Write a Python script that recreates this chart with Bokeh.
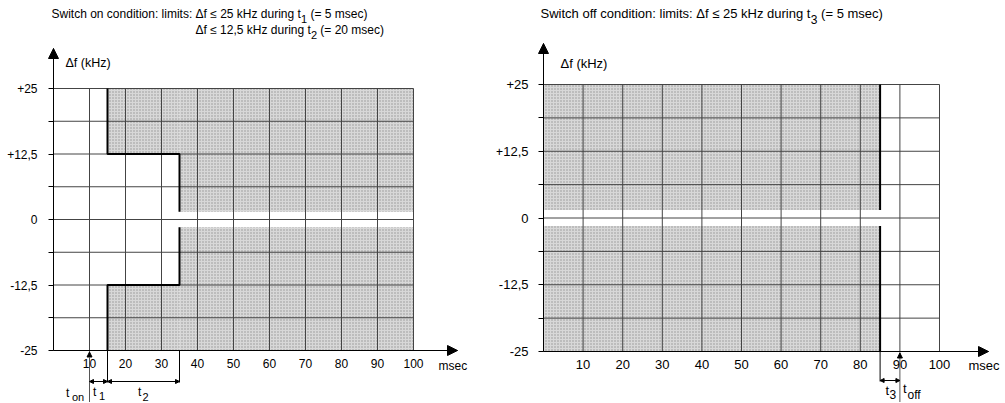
from bokeh.plotting import figure
from bokeh.layouts import row
from bokeh.models import FixedTicker, Arrow, NormalHead, Range1d
from bokeh.core.properties import value
from bokeh.embed import file_html
from bokeh.resources import INLINE

FONT = "Liberation Sans"

# ---------------- data ----------------
x_ticks = [10, 20, 30, 40, 50, 60, 70, 80, 90, 100]
y_levels = [25, 18.75, 12.5, 6.25, 0, -6.25, -12.5, -18.75, -25]
y_label_values = [25, 12.5, 0, -12.5, -25]
y_label_texts = ["+25", "+12,5", "0", "-12,5", "-25"]
df_max = 25          # kHz, edge of the diagram
t_max = 100          # msec, edge of the diagram
band = 1.5           # kHz, unshaded band around 0

# switch on condition
t_on = 10
t1 = 5
t2 = 20
lim_t1 = 25
lim_t2 = 12.5

# switch off condition
t_off = 90
t3 = 5
lim_t3 = 25

H = 402
LW, RW = 496, 508

# page-pixel -> data helpers (layout only)
def lx(px): return (px - 53) / 3.6
def ly(py): return 25 - (py - 88) / 5.24
def rx(px): return (px - 543) / 3.96
def ry(py): return 25 - (py - 84) / 5.34


def txt(p, x, y, s, fs, xo=0, yo=0, align="left", baseline="middle"):
    p.text(x=[x], y=[y], text=[s], x_offset=xo, y_offset=yo,
           text_font=value(FONT), text_font_size=value(f"{fs}px"),
           text_align=align, text_baseline=baseline, text_color="black")


def base(width, xr, yr, fs, y_arrow, x_arrow, ystand):
    p = figure(width=width, height=H, x_range=Range1d(*xr), y_range=Range1d(*yr),
               output_backend="svg", toolbar_location=None, tools="", title=None,
               min_border=0)
    p.outline_line_color = None
    p.grid.visible = False
    xa = p.xaxis[0]
    ya = p.yaxis[0]
    xa.fixed_location = -df_max
    xa.bounds = (0, x_arrow)
    xa.ticker = FixedTicker(ticks=x_ticks)
    xa.major_tick_out = 0
    xa.major_tick_in = 0
    xa.minor_tick_out = 0
    xa.minor_tick_in = 0
    xa.major_label_standoff = 8
    xa.major_label_text_font = FONT
    xa.major_label_text_font_size = f"{fs}px"
    xa.major_label_text_color = "black"
    xa.axis_line_color = "black"

    ya.fixed_location = 0
    ya.bounds = (-df_max, y_arrow)
    ya.ticker = FixedTicker(ticks=y_levels)
    overrides = {v: "" for v in y_levels}
    for v, s in zip(y_label_values, y_label_texts):
        overrides[v] = s
    ya.major_label_overrides = overrides
    ya.major_tick_out = 5
    ya.major_tick_in = 0
    ya.minor_tick_out = 0
    ya.minor_tick_in = 0
    ya.major_tick_line_color = "black"
    ya.major_label_standoff = ystand
    ya.major_label_text_font = FONT
    ya.major_label_text_font_size = f"{fs}px"
    ya.major_label_text_color = "black"
    ya.axis_line_color = "black"

    p.add_layout(Arrow(end=NormalHead(size=10, fill_color="black", line_color="black"),
                       x_start=0, y_start=df_max, x_end=0, y_end=y_arrow,
                       line_color="black", line_width=1))
    p.add_layout(Arrow(end=NormalHead(size=10, fill_color="black", line_color="black"),
                       x_start=t_max, y_start=-df_max, x_end=x_arrow, y_end=-df_max,
                       line_color="black", line_width=1))
    return p


def grid(p):
    p.segment(x0=x_ticks, y0=[-df_max] * len(x_ticks), x1=x_ticks, y1=[df_max] * len(x_ticks),
              line_color="#444444", line_width=1)
    p.segment(x0=[0] * len(y_levels), y0=y_levels, x1=[t_max] * len(y_levels), y1=y_levels,
              line_color="#444444", line_width=1)


SHADE = dict(fill_color="#d8d8d8", line_color=None, hatch_pattern="dot",
             hatch_scale=3, hatch_weight=1, hatch_color="#939393")

# ---------------- left: switch on ----------------
fsL = 12
pL = base(LW, (lx(0), lx(LW)), (ly(H), ly(0)), fsL, ly(48), lx(457), 11)

a = t_on + t1
b = t_on + t1 + t2
pL.quad(left=[a, b, a, b], right=[b, t_max, b, t_max],
        bottom=[lim_t2, band, -lim_t1, -lim_t1], top=[lim_t1, lim_t1, -lim_t2, -band], **SHADE)
grid(pL)
pL.line(x=[a, a, b, b], y=[lim_t1, lim_t2, lim_t2, band], line_color="black", line_width=2)
pL.line(x=[b, b, a, a], y=[-band, -lim_t2, -lim_t2, -lim_t1], line_color="black", line_width=2)

dimL = ly(381)
pL.segment(x0=[t_on], y0=[-df_max], x1=[t_on], y1=[ly(H)], line_color="#555555", line_width=1)
pL.segment(x0=[a, b], y0=[-df_max, -df_max], x1=[a, b], y1=[ly(382), ly(382)],
           line_color="black", line_width=1)
pL.add_layout(Arrow(end=NormalHead(size=5, fill_color="black", line_color="black"),
                    x_start=t_on, y_start=ly(358), x_end=t_on, y_end=ly(351.5),
                    line_color="#555555", line_width=1))
for x0, x1 in [(t_on, a), (a, b)]:
    pL.add_layout(Arrow(start=NormalHead(size=4, fill_color="black", line_color="black"),
                        end=NormalHead(size=4, fill_color="black", line_color="black"),
                        x_start=x0, y_start=dimL, x_end=x1, y_end=dimL,
                        line_color="black", line_width=1))

x0L = lx(51)
txt(pL, x0L, ly(13), "Switch on condition: limits: \u0394f \u2264 25 kHz during t", fsL)
txt(pL, x0L, ly(18), "1", 11, xo=249.5)
txt(pL, x0L, ly(13), "(= 5 msec)", fsL, xo=259)
txt(pL, x0L, ly(29), "\u0394f \u2264 12,5 kHz during t", fsL, xo=144)
txt(pL, x0L, ly(34), "2", 11, xo=259.4)
txt(pL, x0L, ly(29), "(= 20 msec)", fsL, xo=268.8)
txt(pL, lx(65), ly(62), "\u0394f (kHz)", 12.5)
txt(pL, lx(438), ly(365), "msec", fsL)
txt(pL, lx(65.5), ly(392), "t", fsL, baseline="alphabetic")
txt(pL, lx(71.5), ly(396), "on", 11, baseline="alphabetic")
txt(pL, lx(92.5), ly(391), "t", fsL, baseline="alphabetic")
txt(pL, lx(98.5), ly(395), "1", 11, baseline="alphabetic")
txt(pL, lx(137.5), ly(391), "t", fsL, baseline="alphabetic")
txt(pL, lx(142), ly(396), "2", 11, baseline="alphabetic")

# ---------------- right: switch off ----------------
fsR = 13
pR = base(RW, (rx(LW), rx(LW + RW)), (ry(H), ry(0)), fsR, ry(43), rx(988), 10)

c = t_off - t3
pR.quad(left=[0, 0], right=[c, c], bottom=[band, -lim_t3], top=[lim_t3, -band], **SHADE)
grid(pR)
pR.line(x=[c, c], y=[lim_t3, band], line_color="black", line_width=2)
pR.line(x=[c, c], y=[-band, -lim_t3], line_color="black", line_width=2)

dimR = ry(380)
pR.segment(x0=[t_off], y0=[-df_max], x1=[t_off], y1=[ry(H)], line_color="#555555", line_width=1)
pR.segment(x0=[c], y0=[-df_max], x1=[c], y1=[ry(381)], line_color="black", line_width=1)
pR.add_layout(Arrow(end=NormalHead(size=5, fill_color="black", line_color="black"),
                    x_start=t_off, y_start=ry(358), x_end=t_off, y_end=ry(352.5),
                    line_color="#555555", line_width=1))
pR.add_layout(Arrow(start=NormalHead(size=4, fill_color="black", line_color="black"),
                    end=NormalHead(size=4, fill_color="black", line_color="black"),
                    x_start=c, y_start=dimR, x_end=t_off, y_end=dimR,
                    line_color="black", line_width=1))

x0R = rx(540)
txt(pR, x0R, ry(13), "Switch off condition: limits: \u0394f \u2264 25 kHz during t", fsR)
txt(pR, x0R, ry(19), "3", 12, xo=270.3)
txt(pR, x0R, ry(13), "(= 5 msec)", fsR, xo=280.6)
txt(pR, rx(560), ry(63), "\u0394f (kHz)", 13)
txt(pR, rx(968), ry(365), "msec", fsR)
txt(pR, rx(885), ry(390), "t", fsR, baseline="alphabetic")
txt(pR, rx(889), ry(394), "3", 12, baseline="alphabetic")
txt(pR, rx(902.5), ry(388), "t", fsR, baseline="alphabetic")
txt(pR, rx(907), ry(394), "off", 12, baseline="alphabetic")

layout = row(pL, pR)
open("out.html", "w").write(file_html(layout, INLINE))
